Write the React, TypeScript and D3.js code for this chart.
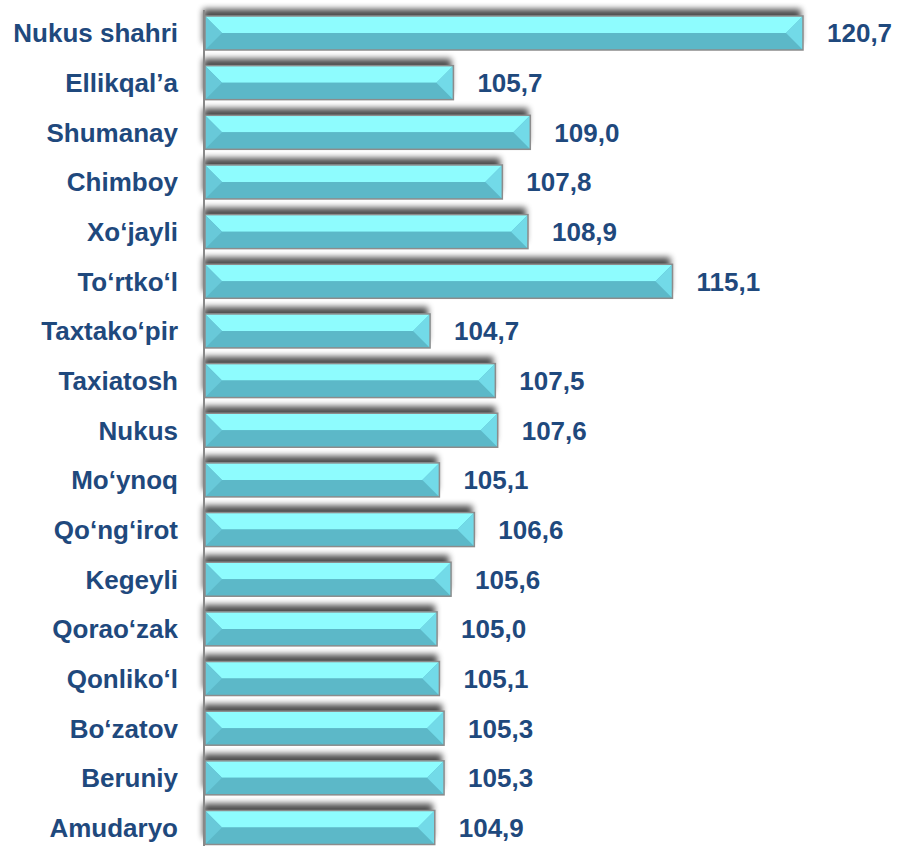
import React from "react";
import * as d3 from "d3";

const categories = [
  "Nukus shahri",
  "Ellikqal’a",
  "Shumanay",
  "Chimboy",
  "Xo‘jayli",
  "To‘rtko‘l",
  "Taxtako‘pir",
  "Taxiatosh",
  "Nukus",
  "Mo‘ynoq",
  "Qo‘ng‘irot",
  "Kegeyli",
  "Qorao‘zak",
  "Qonliko‘l",
  "Bo‘zatov",
  "Beruniy",
  "Amudaryo",
];

const values = [120.7, 105.7, 109.0, 107.8, 108.9, 115.1, 104.7, 107.5, 107.6, 105.1, 106.6, 105.6, 105.0, 105.1, 105.3, 105.3, 104.9];

const xDomain = [95, 120.7];

const W = 897;
const H = 846;
const axisX = 204;
const barH = 34;
const textColor = "#1F497D";

export default function App() {
  const x = d3.scaleLinear().domain(xDomain).range([axisX, 803]);
  const y = d3.scalePoint<string>().domain(categories).range([33, 827.5]);
  const fmt = (v: number) => v.toFixed(1).replace(".", ",");

  return (
    <svg
      width={W}
      height={H}
      style={{ position: "absolute", left: 0, top: 0, background: "#fff" }}
      fontFamily="'Liberation Sans', Arial, sans-serif"
    >
      <defs>
        <filter id="sh" x="-5%" y="-60%" width="110%" height="200%">
          <feGaussianBlur in="SourceAlpha" stdDeviation="3" />
          <feOffset dx="-2" dy="-7" result="b" />
          <feComponentTransfer>
            <feFuncA type="linear" slope="0.7" />
          </feComponentTransfer>
          <feMerge>
            <feMergeNode />
            <feMergeNode in="SourceGraphic" />
          </feMerge>
        </filter>
      </defs>
      {categories.map((c, i) => {
        const cy = y(c) as number;
        const x0 = axisX + 1;
        const x1 = x(values[i]);
        const t = cy - barH / 2;
        const b = cy + barH / 2;
        const bv = Math.min(barH / 2, (x1 - x0) / 2);
        return (
          <g key={c}>
            <g filter="url(#sh)">
              <rect x={x0} y={t} width={x1 - x0} height={barH} fill="#5CB8C8" />
            </g>
            <polygon points={`${x0},${t} ${x1},${t} ${x1 - bv},${cy} ${x0 + bv},${cy}`} fill="#8EFCFE" />
            <polygon points={`${x0},${b} ${x1},${b} ${x1 - bv},${cy} ${x0 + bv},${cy}`} fill="#5CB8C8" />
            <polygon points={`${x0},${t} ${x0 + bv},${cy} ${x0},${b}`} fill="#68C9D9" />
            <polygon points={`${x1},${t} ${x1 - bv},${cy} ${x1},${b}`} fill="#72DAE8" />
            <rect x={x0} y={t} width={x1 - x0} height={barH} fill="none" stroke="#8C8C8C" strokeWidth={1.5} />
            <text
              x={178}
              y={cy}
              dy="0.36em"
              textAnchor="end"
              fontSize={26}
              fontWeight="bold"
              fill={textColor}
            >
              {c}
            </text>
            <text x={x1 + 24} y={cy} dy="0.36em" fontSize={26} fontWeight="bold" fill={textColor}>
              {fmt(values[i])}
            </text>
          </g>
        );
      })}
      <line x1={axisX} x2={axisX} y1={10} y2={H} stroke="#888" strokeWidth={2} />
    </svg>
  );
}
